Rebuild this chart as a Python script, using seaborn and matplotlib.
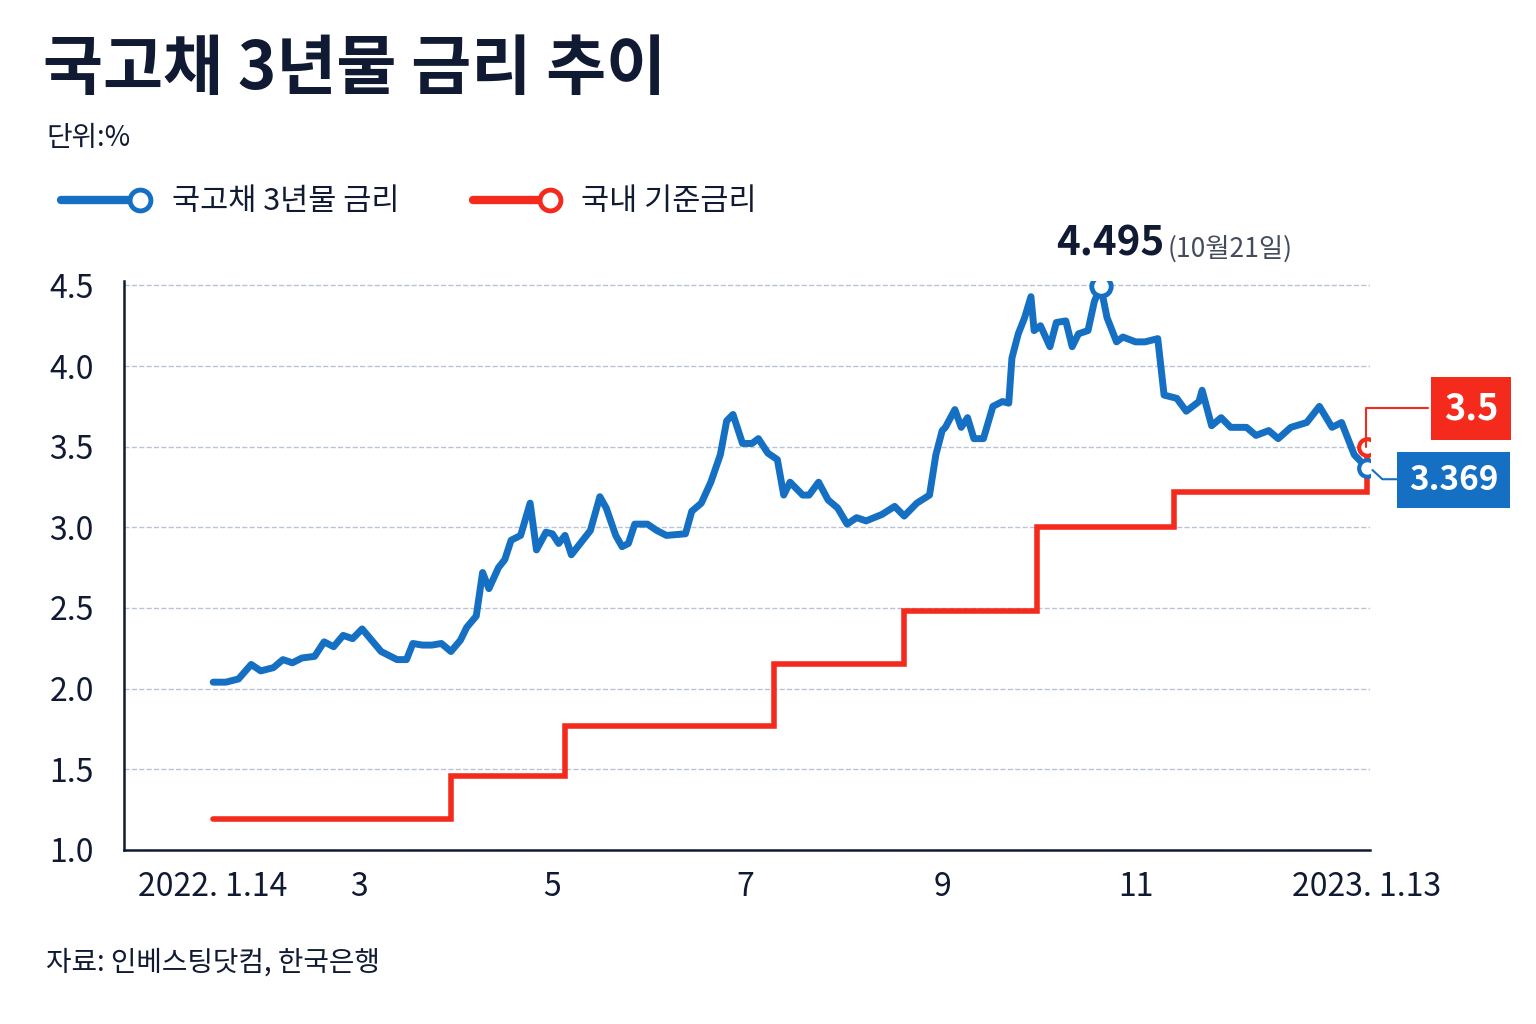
import pandas as pd
import matplotlib.pyplot as plt
from matplotlib.lines import Line2D
import seaborn as sns

blue_dates = ['2022-01-14', '2022-01-18', '2022-01-22', '2022-01-26', '2022-01-29', '2022-02-02', '2022-02-05',
              '2022-02-08', '2022-02-11', '2022-02-15', '2022-02-18', '2022-02-21', '2022-02-24', '2022-02-27',
              '2022-03-02', '2022-03-05', '2022-03-08', '2022-03-11', '2022-03-13', '2022-03-16', '2022-03-18',
              '2022-03-21', '2022-03-24', '2022-03-27', '2022-03-30', '2022-04-02', '2022-04-04', '2022-04-07',
              '2022-04-09', '2022-04-11', '2022-04-14', '2022-04-16', '2022-04-18', '2022-04-21', '2022-04-24',
              '2022-04-26', '2022-04-29', '2022-05-01', '2022-05-03', '2022-05-05', '2022-05-07', '2022-05-11',
              '2022-05-13', '2022-05-16', '2022-05-18', '2022-05-21', '2022-05-23', '2022-05-25', '2022-05-27',
              '2022-05-31', '2022-06-03', '2022-06-06', '2022-06-12', '2022-06-14', '2022-06-17', '2022-06-20',
              '2022-06-23', '2022-06-25', '2022-06-27', '2022-06-30', '2022-07-03', '2022-07-05', '2022-07-08',
              '2022-07-11', '2022-07-13', '2022-07-15', '2022-07-19', '2022-07-21', '2022-07-24', '2022-07-27',
              '2022-07-30', '2022-08-02', '2022-08-05', '2022-08-08', '2022-08-13', '2022-08-17', '2022-08-20',
              '2022-08-24', '2022-08-28', '2022-08-30', '2022-09-01', '2022-09-02', '2022-09-05', '2022-09-07',
              '2022-09-09', '2022-09-11', '2022-09-14', '2022-09-17', '2022-09-20', '2022-09-22', '2022-09-23',
              '2022-09-25', '2022-09-27', '2022-09-29', '2022-09-30', '2022-10-02', '2022-10-05', '2022-10-07',
              '2022-10-10', '2022-10-12', '2022-10-14', '2022-10-17', '2022-10-19', '2022-10-21', '2022-10-23',
              '2022-10-26', '2022-10-28', '2022-11-01', '2022-11-04', '2022-11-08', '2022-11-10', '2022-11-14',
              '2022-11-17', '2022-11-21', '2022-11-22', '2022-11-25', '2022-11-28', '2022-12-01', '2022-12-06',
              '2022-12-09', '2022-12-13', '2022-12-16', '2022-12-20', '2022-12-25', '2022-12-29', '2023-01-02',
              '2023-01-05', '2023-01-09', '2023-01-13']
blue_vals = [2.04, 2.04, 2.06, 2.15, 2.11, 2.13, 2.18,
             2.16, 2.19, 2.20, 2.29, 2.26, 2.33, 2.31,
             2.37, 2.30, 2.23, 2.20, 2.18, 2.18, 2.28,
             2.27, 2.27, 2.28, 2.23, 2.30, 2.38, 2.45,
             2.72, 2.62, 2.75, 2.80, 2.92, 2.95, 3.15,
             2.86, 2.97, 2.96, 2.90, 2.95, 2.83, 2.93,
             2.98, 3.19, 3.12, 2.95, 2.88, 2.90, 3.02,
             3.02, 2.98, 2.95, 2.96, 3.10, 3.15, 3.28,
             3.45, 3.66, 3.70, 3.52, 3.52, 3.55, 3.46,
             3.42, 3.20, 3.28, 3.20, 3.20, 3.28, 3.17,
             3.12, 3.02, 3.06, 3.04, 3.08, 3.13, 3.07,
             3.15, 3.20, 3.45, 3.60, 3.62, 3.73, 3.62,
             3.68, 3.55, 3.55, 3.75, 3.78, 3.77, 4.05,
             4.20, 4.30, 4.43, 4.22, 4.25, 4.12, 4.27,
             4.28, 4.12, 4.20, 4.22, 4.40, 4.495, 4.30,
             4.15, 4.18, 4.15, 4.15, 4.17, 3.82, 3.80,
             3.72, 3.78, 3.85, 3.63, 3.68, 3.62, 3.62,
             3.57, 3.60, 3.55, 3.62, 3.65, 3.75, 3.62,
             3.65, 3.45, 3.369]

red_dates = ['2022-01-14', '2022-03-30', '2022-05-05', '2022-07-10', '2022-08-20', '2022-10-01', '2022-11-13', '2023-01-13', '2023-01-13']
red_vals = [1.19, 1.46, 1.77, 2.15, 2.48, 3.0, 3.22, 3.22, 3.5]

tick_dates = ['2022-01-14', '2022-03-01', '2022-05-01', '2022-07-01', '2022-09-01', '2022-11-01', '2023-01-13']
tick_labels = ['2022. 1.14', '3', '5', '7', '9', '11', '2023. 1.13']

blue = pd.DataFrame({'date': pd.to_datetime(blue_dates), 'rate': blue_vals})
red = pd.DataFrame({'date': pd.to_datetime(red_dates), 'rate': red_vals})

BLUE = '#1570c4'
RED = '#f42a1c'
NAVY = '#111a33'

sns.set_style('white')
plt.rcParams['font.family'] = ['Noto Sans CJK KR', 'DejaVu Sans']

fig = plt.figure(figsize=(15.36, 10.24), dpi=100)
ax = fig.add_axes([0.081, 0.170, 0.811, 0.556])

ax.step(red['date'], red['rate'], where='post', color=RED, lw=4, solid_joinstyle='miter')
sns.lineplot(data=blue, x='date', y='rate', ax=ax, color=BLUE, lw=5)

ax.set_xlim(pd.Timestamp('2021-12-17'), pd.Timestamp('2023-01-14'))
ax.set_ylim(1.0, 4.53)
ax.set_yticks([1.0, 1.5, 2.0, 2.5, 3.0, 3.5, 4.0, 4.5])
ax.set_yticklabels([f'{v:.1f}' for v in ax.get_yticks()], fontsize=23, color=NAVY, fontweight='medium')
ax.set_xticks(pd.to_datetime(tick_dates))
ax.set_xticklabels(tick_labels, fontsize=23, color=NAVY, fontweight='medium')
ax.set_xlabel('')
ax.set_ylabel('')
ax.grid(axis='y', color='#b8c4d6', ls='--', lw=1)
for s in ['top', 'right']:
    ax.spines[s].set_visible(False)
for s in ['left', 'bottom']:
    ax.spines[s].set_color(NAVY)
    ax.spines[s].set_linewidth(1.8)
ax.tick_params(axis='x', length=7, width=1.5, color=NAVY, pad=8)
ax.tick_params(axis='y', length=0, pad=22)

# markers
peak = pd.Timestamp('2022-10-21')
end = pd.Timestamp('2023-01-13')
ax.plot(peak, 4.495, 'o', ms=14, mfc='white', mec=BLUE, mew=3.5, zorder=5)
ax.plot(end, 3.369, 'o', ms=12, mfc='white', mec=BLUE, mew=3, zorder=5)
ax.plot(end, 3.5, 'o', ms=12, mfc='white', mec=RED, mew=3, zorder=5)
ax.text(peak + pd.Timedelta(days=3), 4.63, '4.495', ha='center', va='bottom', fontsize=29, fontweight='bold', color=NAVY)
ax.text(peak + pd.Timedelta(days=21), 4.64, '(10월21일)', ha='left', va='bottom', fontsize=19, color='#444c5c')

# value boxes
fig.text(0.9755, 0.601, '3.5', ha='right', va='center', fontsize=26, fontweight='bold', color='white',
         bbox=dict(boxstyle='square,pad=0.35', fc=RED, ec='none'))
fig.text(0.9755, 0.531, '3.369', ha='right', va='center', fontsize=24, fontweight='bold', color='white',
         bbox=dict(boxstyle='square,pad=0.35', fc=BLUE, ec='none'))
fig.add_artist(Line2D([0.8895, 0.8895, 0.93], [0.563, 0.602, 0.602], color=RED, lw=1.5))
fig.add_artist(Line2D([0.8935, 0.9, 0.912], [0.541, 0.532, 0.532], color=BLUE, lw=1.5))

# title and legend
fig.text(0.028, 0.932, '국고채 3년물 금리 추이', fontsize=47, fontweight='black', color=NAVY, va='center')
fig.text(0.030, 0.865, '단위:%', fontsize=20, color=NAVY, va='center', fontweight='medium')
fig.add_artist(Line2D([0.04, 0.087], [0.805, 0.805], color=BLUE, lw=6, solid_capstyle='round'))
fig.add_artist(Line2D([0.091], [0.805], marker='o', ms=15, mfc='white', mec=BLUE, mew=3.5))
fig.text(0.112, 0.803, '국고채 3년물 금리', fontsize=22, color=NAVY, va='center', fontweight='medium')
fig.add_artist(Line2D([0.308, 0.355], [0.805, 0.805], color=RED, lw=6, solid_capstyle='round'))
fig.add_artist(Line2D([0.358], [0.805], marker='o', ms=15, mfc='white', mec=RED, mew=3.5))
fig.text(0.378, 0.803, '국내 기준금리', fontsize=22, color=NAVY, va='center', fontweight='medium')

fig.text(0.030, 0.06, '자료: 인베스팅닷컴, 한국은행', fontsize=20, color=NAVY, va='center', fontweight='medium')

fig.savefig('out.png', dpi=100, facecolor='white')
